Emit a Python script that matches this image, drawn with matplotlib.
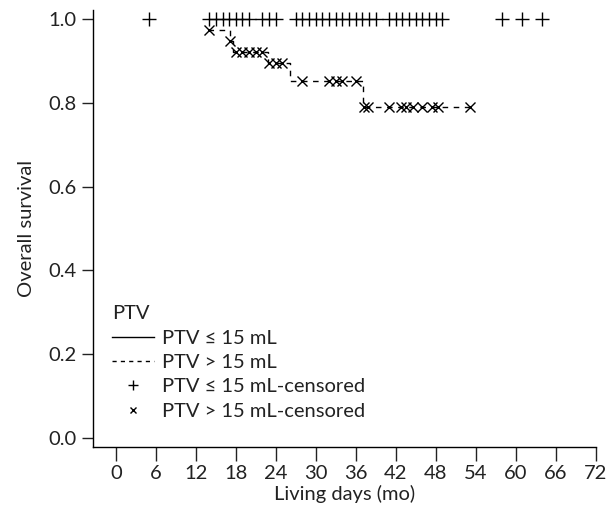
"""Kaplan-Meier style overall survival plot, PTV <= 15 mL vs PTV > 15 mL."""

import numpy as np
import matplotlib
matplotlib.use("Agg")
import matplotlib.pyplot as plt
from matplotlib.lines import Line2D
from matplotlib.legend_handler import HandlerLine2D

plt.rcParams["font.family"] = ["Lato", "DejaVu Sans"]

# PTV <= 15 mL: no events, censored only (survival stays at 1.0)
g1_censor = [5, 14, 15, 16, 17, 18, 19, 20, 22, 23, 24,
             27, 28, 29, 30, 31, 32, 33, 34, 35, 36, 37, 38, 39,
             41, 42, 43, 44, 45, 46, 47, 48, 49, 58, 61, 64]

# PTV > 15 mL: event times and survival after each event
g2_events = [13.8, 17.1, 17.6, 22.9, 26.1, 37.1]
g2_surv = [0.974, 0.947, 0.921, 0.894, 0.851, 0.789]
g2_end = 53.2
g2_censor = [13.9, 17.2, 18, 19, 20, 21, 22, 23, 24, 25,
             28, 32, 33, 34, 36, 37.3, 37.8, 41, 42.8, 43.6, 44.6,
             46, 47.5, 48.4, 53.2]

x_ticks = np.arange(0, 73, 6)
y_ticks = [0.0, 0.2, 0.4, 0.6, 0.8, 1.0]

labels = ["PTV \u2264 15 mL", "PTV > 15 mL",
          "PTV \u2264 15 mL-censored", "PTV > 15 mL-censored"]

FS = 14.5


class LeftMarkerHandler(HandlerLine2D):
    # put the single legend marker near the left end of the handle
    def get_xdata(self, legend, xdescent, ydescent, width, height, fontsize):
        xdata = np.array([-xdescent, -xdescent + width], float)
        return xdata, np.array([-xdescent + width * 0.18])


fig = plt.figure(figsize=(6.11, 5.09), dpi=100)
ax = fig.add_axes([0.152, 0.122, 0.823, 0.858])

# group 2 step curve
xs = g2_events + [g2_end]
ys = g2_surv + [g2_surv[-1]]
ax.step(xs, ys, where="post", color="black", linestyle=(0, (4, 4)), linewidth=1)

# censor marks
ax.plot(g1_censor, np.ones(len(g1_censor)), linestyle="none", marker="+",
        color="black", markersize=10, markeredgewidth=1)
idx = np.searchsorted(g2_events, g2_censor, side="right") - 1
g2_levels = np.array(g2_surv)[idx]
ax.plot(g2_censor, g2_levels, linestyle="none", marker="x",
        color="black", markersize=7, markeredgewidth=1)

ax.set_xlim(-3.45, 72)
ax.set_ylim(-0.021, 1.021)
ax.set_xticks(x_ticks)
ax.set_yticks(y_ticks)
ax.set_yticklabels([f"{v:.1f}" for v in y_ticks])

for side in ["top", "right"]:
    ax.spines[side].set_visible(False)
for side in ["left", "bottom"]:
    ax.spines[side].set_linewidth(1)

ax.tick_params(axis="x", direction="out", length=10, width=1, labelsize=FS, pad=3, colors="#222222")
ax.tick_params(axis="y", direction="out", length=8, width=1, labelsize=FS, pad=4, colors="#222222")
ax.set_xlabel("Living days (mo)", fontsize=FS, color="#222222", labelpad=2)
ax.set_ylabel("Overall survival", fontsize=FS, color="#222222", labelpad=9)

handles = [
    Line2D([], [], color="black", linewidth=1),
    Line2D([], [], color="black", linewidth=1, linestyle=(0, (3, 3))),
    Line2D([], [], color="black", linestyle="none", marker="+", markersize=7, markeredgewidth=1),
    Line2D([], [], color="black", linestyle="none", marker="x", markersize=5, markeredgewidth=1),
]
leg = ax.legend(handles, labels, title="PTV", loc="lower left",
                bbox_to_anchor=(0.01, 0.03), frameon=False, fontsize=FS,
                title_fontsize=FS, alignment="left", handlelength=2.1,
                handletextpad=0.4, labelspacing=0.36, borderpad=0.2,
                handler_map={handles[2]: LeftMarkerHandler(), handles[3]: LeftMarkerHandler()})
for t in leg.get_texts():
    t.set_color("#222222")
leg.get_title().set_color("#222222")

fig.savefig("out.png", dpi=100)
